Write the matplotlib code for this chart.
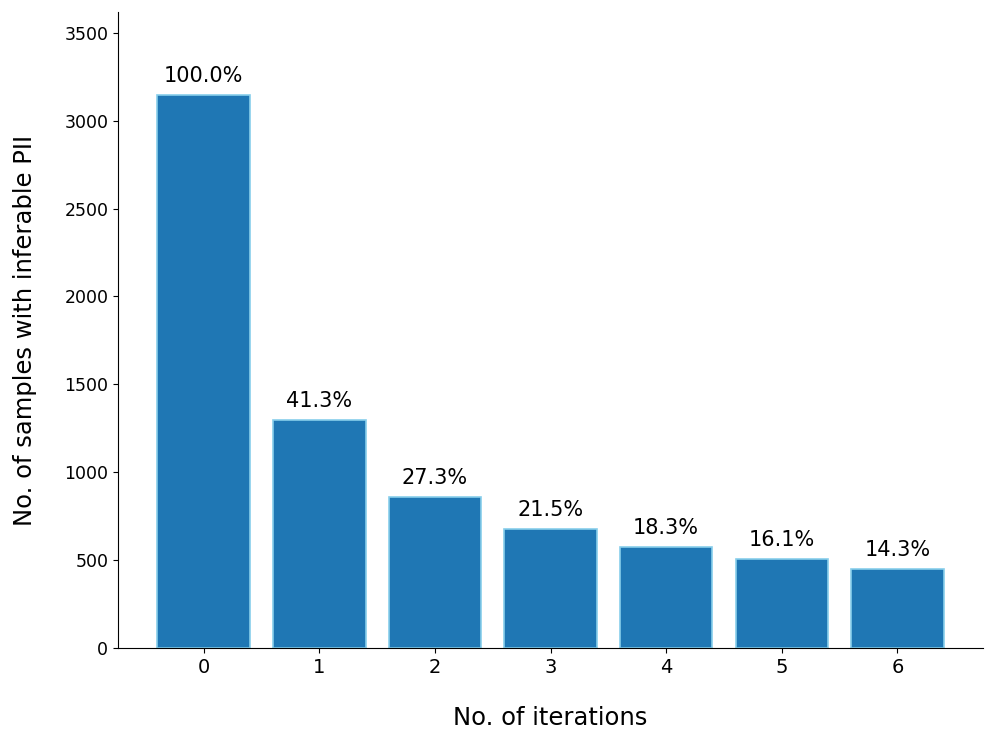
import matplotlib
matplotlib.use("Agg")
import matplotlib.pyplot as plt

iterations = [0, 1, 2, 3, 4, 5, 6]
counts = [3147, 1300, 859, 677, 576, 507, 450]
labels = ["100.0%", "41.3%", "27.3%", "21.5%", "18.3%", "16.1%", "14.3%"]

fig = plt.figure(figsize=(9.96, 7.44), dpi=100)
ax = fig.add_axes([0.1185, 0.129, 0.8685, 0.855])
bars = ax.bar(iterations, counts, width=0.8, color="#1f77b4", edgecolor="#87ceeb", linewidth=1.2)
for b, lab in zip(bars, labels):
    ax.text(b.get_x() + b.get_width() / 2, b.get_height() + 50, lab,
            ha="center", va="bottom", fontsize=15)
ax.set_ylim(0, max(counts) * 1.15)
ax.set_xticks(iterations)
ax.tick_params(axis="x", labelsize=14)
ax.tick_params(axis="y", labelsize=12.5)
ax.set_xlabel("No. of iterations", fontsize=17.5, labelpad=21)
ax.set_ylabel("No. of samples with inferable PII", fontsize=17.5, labelpad=20)
ax.spines["top"].set_visible(False)
ax.spines["right"].set_visible(False)
fig.savefig("out.png", dpi=100)
